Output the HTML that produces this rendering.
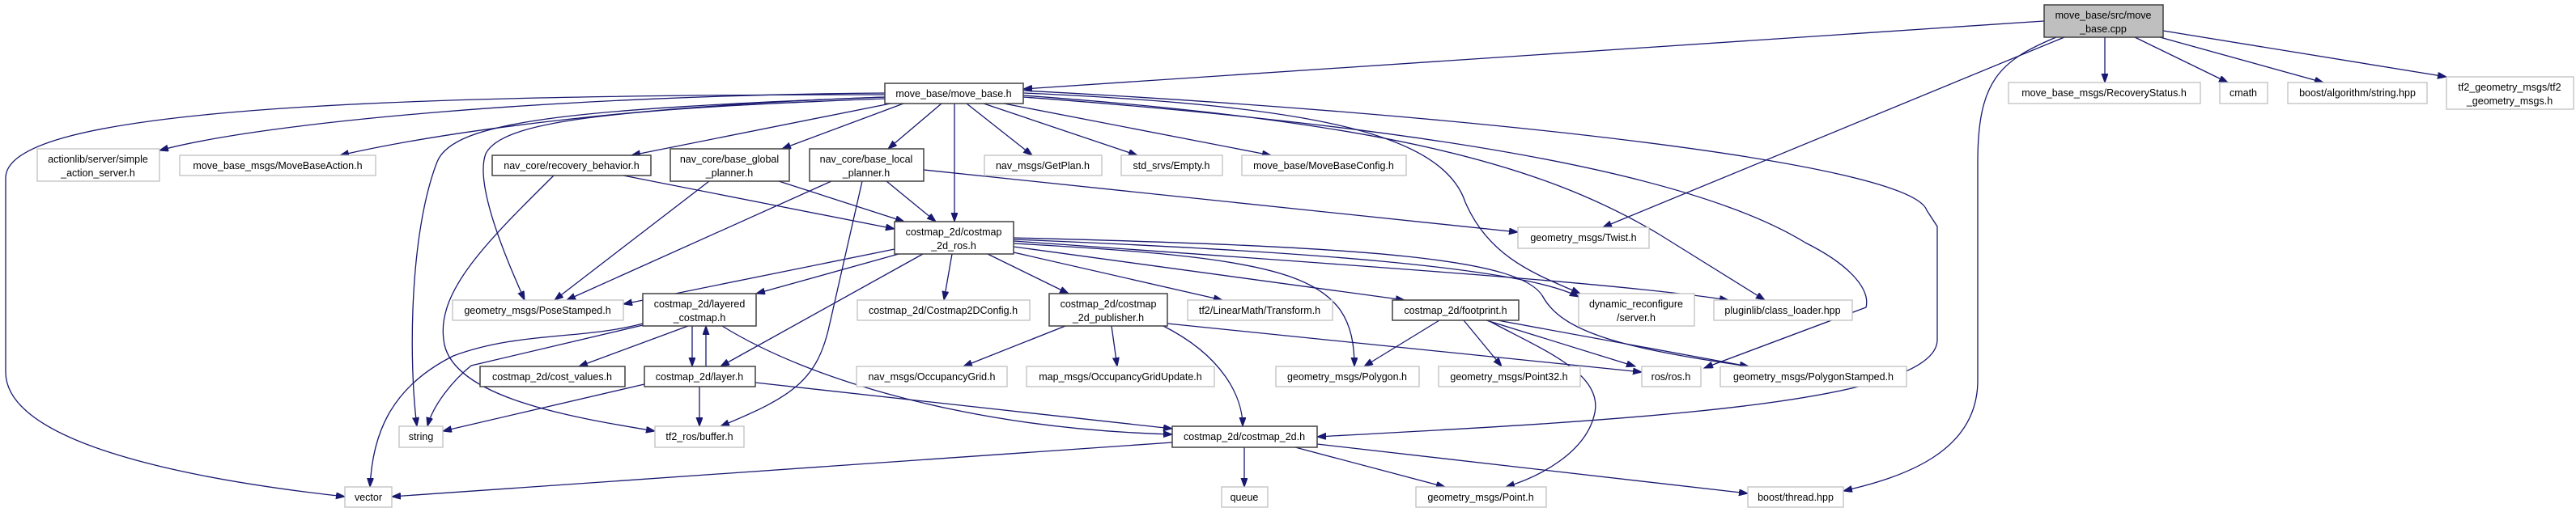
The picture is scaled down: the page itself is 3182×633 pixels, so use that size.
<!DOCTYPE html>
<html><head><meta charset="utf-8"><style>
html,body{margin:0;padding:0;background:#fff;}
svg{display:block;}
text{font-family:"Liberation Sans",sans-serif;font-size:12.5px;fill:#000;text-anchor:middle;}
.e{fill:none;stroke:#191970;stroke-width:1.3;marker-end:url(#a);}
.d{fill:#fff;stroke:#404040;stroke-width:1.5;}
.x{fill:#fff;stroke:#bfbfbf;stroke-width:1.3;}
.g{fill:#bfbfbf;stroke:#404040;stroke-width:1.5;}
</style></head><body>
<svg width="3182" height="633" viewBox="0 0 3182 633" xmlns="http://www.w3.org/2000/svg">
<defs><marker id="a" markerUnits="userSpaceOnUse" markerWidth="12" markerHeight="9" refX="11" refY="4" orient="auto"><path d="M0,0 L11,4 L0,8 z" fill="#191970" stroke="#191970"/></marker></defs>
<g>
<path class="e" d="M2525,26 L1264,110"/>
<path class="e" d="M2600,46 L2600,102"/>
<path class="e" d="M2637,46 L2752,102"/>
<path class="e" d="M2668,46 L2870,102"/>
<path class="e" d="M2672,38 L3022,95"/>
<path class="e" d="M2550,46 L1980,281"/>
<path class="e" d="M2540,46 C2470,75 2443,100 2443,200 L2443,470 C2443,560 2350,590 2277,607"/>
<path class="e" d="M1093,115 C700,118 330,150 197,186"/>
<path class="e" d="M1093,120 C800,130 560,160 420,192"/>
<path class="e" d="M1100,128 L780,192"/>
<path class="e" d="M1116,128 L966,184"/>
<path class="e" d="M1163,128 L1097,184"/>
<path class="e" d="M1179,128 L1179,274"/>
<path class="e" d="M1194,128 L1275,192"/>
<path class="e" d="M1215,128 L1405,192"/>
<path class="e" d="M1240,128 L1570,192"/>
<path class="e" d="M1093,117 C400,117 7,140 7,220 L7,460 C7,560 300,600 426,614"/>
<path class="e" d="M1093,120 C700,135 560,150 540,200 C505,290 505,450 515,527"/>
<path class="e" d="M1093,122 C750,135 620,150 600,190 C585,230 630,330 648,371"/>
<path class="e" d="M684,217 C600,300 540,360 548,420 C555,490 700,515 809,533"/>
<path class="e" d="M770,217 L1105,283"/>
<path class="e" d="M876,224 L685,371"/>
<path class="e" d="M962,224 L1117,274"/>
<path class="e" d="M1027,224 L700,371"/>
<path class="e" d="M1095,224 L1156,274"/>
<path class="e" d="M1065,224 L1025,400 C1010,470 980,490 890,527"/>
<path class="e" d="M1141,210 L1875,287"/>
<path class="e" d="M1105,308 L770,376"/>
<path class="e" d="M1110,314 L934,363"/>
<path class="e" d="M1140,314 L890,453"/>
<path class="e" d="M1176,314 L1166,371"/>
<path class="e" d="M1220,314 L1320,363"/>
<path class="e" d="M1252,312 L1510,371"/>
<path class="e" d="M1252,305 L1735,371"/>
<path class="e" d="M1252,296 C1600,310 1880,330 1950,367"/>
<path class="e" d="M1252,298 C1700,330 2000,350 2135,371"/>
<path class="e" d="M1252,301 C1600,320 1673,340 1673,453"/>
<path class="e" d="M1252,294 C1700,305 1880,320 1906,367 C1930,410 2000,430 2160,453"/>
<path class="e" d="M1264,115 C1600,130 1780,160 1810,250 C1840,320 1900,340 1952,363"/>
<path class="e" d="M1264,118 C1700,150 1900,200 2050,290 L2180,371"/>
<path class="e" d="M1264,120 C1800,160 2100,220 2230,300 C2290,330 2310,360 2305,380 L2105,455"/>
<path class="e" d="M1264,112 C1800,140 2360,200 2380,260 L2393,280 L2393,420 C2393,500 2000,520 1627,540"/>
<path class="e" d="M850,403 L715,453"/>
<path class="e" d="M855,403 L855,453"/>
<path class="e" d="M872,453 L872,403"/>
<path class="e" d="M794,402 L582,452 C560,470 535,500 528,527"/>
<path class="e" d="M794,400 C720,420 640,410 560,440 C480,480 460,540 457,602"/>
<path class="e" d="M892,403 C1000,470 1200,530 1448,537"/>
<path class="e" d="M864,478 L864,527"/>
<path class="e" d="M796,475 L547,533"/>
<path class="e" d="M933,473 L1448,530"/>
<path class="e" d="M1316,403 L1190,453"/>
<path class="e" d="M1373,403 L1380,453"/>
<path class="e" d="M1437,403 C1510,440 1535,490 1535,527"/>
<path class="e" d="M1442,400 L2028,460"/>
<path class="e" d="M1778,396 L1685,453"/>
<path class="e" d="M1808,396 L1855,453"/>
<path class="e" d="M1836,396 L2020,453"/>
<path class="e" d="M1850,396 L2160,453"/>
<path class="e" d="M1838,396 C1900,430 1980,460 1970,510 C1960,560 1900,590 1860,602"/>
<path class="e" d="M1448,547 L484,614"/>
<path class="e" d="M1537,553 L1537,602"/>
<path class="e" d="M1600,553 L1785,602"/>
<path class="e" d="M1627,549 L2159,610"/>
</g>
<g>
<rect class="g" x="2525" y="6" width="147" height="40"/><text x="2598" y="23">move_base/src/move</text><text x="2598" y="40">_base.cpp</text>
<rect class="d" x="1093" y="103" width="171" height="25"/><text x="1178" y="120">move_base/move_base.h</text>
<rect class="x" x="46" y="184" width="151" height="40"/><text x="121" y="201">actionlib/server/simple</text><text x="121" y="218">_action_server.h</text>
<rect class="x" x="222" y="192" width="242" height="25"/><text x="343" y="209">move_base_msgs/MoveBaseAction.h</text>
<rect class="d" x="608" y="192" width="196" height="25"/><text x="706" y="209">nav_core/recovery_behavior.h</text>
<rect class="d" x="828" y="184" width="147" height="40"/><text x="901" y="201">nav_core/base_global</text><text x="901" y="218">_planner.h</text>
<rect class="d" x="1000" y="184" width="141" height="40"/><text x="1070" y="201">nav_core/base_local</text><text x="1070" y="218">_planner.h</text>
<rect class="x" x="1216" y="192" width="145" height="25"/><text x="1288" y="209">nav_msgs/GetPlan.h</text>
<rect class="x" x="1385" y="192" width="125" height="25"/><text x="1447" y="209">std_srvs/Empty.h</text>
<rect class="x" x="1534" y="192" width="203" height="25"/><text x="1635" y="209">move_base/MoveBaseConfig.h</text>
<rect class="x" x="2481" y="102" width="237" height="26"/><text x="2599" y="119">move_base_msgs/RecoveryStatus.h</text>
<rect class="x" x="2742" y="102" width="59" height="26"/><text x="2771" y="119">cmath</text>
<rect class="x" x="2826" y="102" width="172" height="26"/><text x="2912" y="119">boost/algorithm/string.hpp</text>
<rect class="x" x="3022" y="95" width="157" height="40"/><text x="3100" y="112">tf2_geometry_msgs/tf2</text><text x="3100" y="129">_geometry_msgs.h</text>
<rect class="x" x="1875" y="281" width="162" height="26"/><text x="1956" y="298">geometry_msgs/Twist.h</text>
<rect class="d" x="1105" y="274" width="147" height="40"/><text x="1178" y="291">costmap_2d/costmap</text><text x="1178" y="308">_2d_ros.h</text>
<rect class="x" x="559" y="371" width="211" height="25"/><text x="664" y="388">geometry_msgs/PoseStamped.h</text>
<rect class="d" x="794" y="363" width="140" height="40"/><text x="864" y="380">costmap_2d/layered</text><text x="864" y="397">_costmap.h</text>
<rect class="x" x="1059" y="371" width="213" height="25"/><text x="1165" y="388">costmap_2d/Costmap2DConfig.h</text>
<rect class="d" x="1296" y="363" width="146" height="40"/><text x="1369" y="380">costmap_2d/costmap</text><text x="1369" y="397">_2d_publisher.h</text>
<rect class="x" x="1467" y="371" width="179" height="25"/><text x="1556" y="388">tf2/LinearMath/Transform.h</text>
<rect class="d" x="1720" y="371" width="156" height="25"/><text x="1798" y="388">costmap_2d/footprint.h</text>
<rect class="x" x="1950" y="363" width="143" height="40"/><text x="2021" y="380">dynamic_reconfigure</text><text x="2021" y="397">/server.h</text>
<rect class="x" x="2117" y="371" width="171" height="25"/><text x="2202" y="388">pluginlib/class_loader.hpp</text>
<rect class="d" x="593" y="453" width="179" height="25"/><text x="682" y="470">costmap_2d/cost_values.h</text>
<rect class="d" x="796" y="453" width="137" height="25"/><text x="864" y="470">costmap_2d/layer.h</text>
<rect class="x" x="1058" y="453" width="186" height="25"/><text x="1151" y="470">nav_msgs/OccupancyGrid.h</text>
<rect class="x" x="1268" y="453" width="232" height="25"/><text x="1384" y="470">map_msgs/OccupancyGridUpdate.h</text>
<rect class="x" x="1576" y="453" width="177" height="25"/><text x="1664" y="470">geometry_msgs/Polygon.h</text>
<rect class="x" x="1777" y="453" width="175" height="25"/><text x="1864" y="470">geometry_msgs/Point32.h</text>
<rect class="x" x="2028" y="453" width="73" height="25"/><text x="2064" y="470">ros/ros.h</text>
<rect class="x" x="2125" y="453" width="230" height="25"/><text x="2240" y="470">geometry_msgs/PolygonStamped.h</text>
<rect class="x" x="493" y="527" width="54" height="26"/><text x="520" y="544">string</text>
<rect class="x" x="809" y="527" width="110" height="26"/><text x="864" y="544">tf2_ros/buffer.h</text>
<rect class="d" x="1448" y="527" width="179" height="26"/><text x="1537" y="544">costmap_2d/costmap_2d.h</text>
<rect class="x" x="426" y="602" width="58" height="25"/><text x="455" y="619">vector</text>
<rect class="x" x="1509" y="602" width="57" height="25"/><text x="1537" y="619">queue</text>
<rect class="x" x="1749" y="602" width="161" height="25"/><text x="1829" y="619">geometry_msgs/Point.h</text>
<rect class="x" x="2159" y="602" width="118" height="25"/><text x="2218" y="619">boost/thread.hpp</text>
</g>
</svg>
</body></html>
